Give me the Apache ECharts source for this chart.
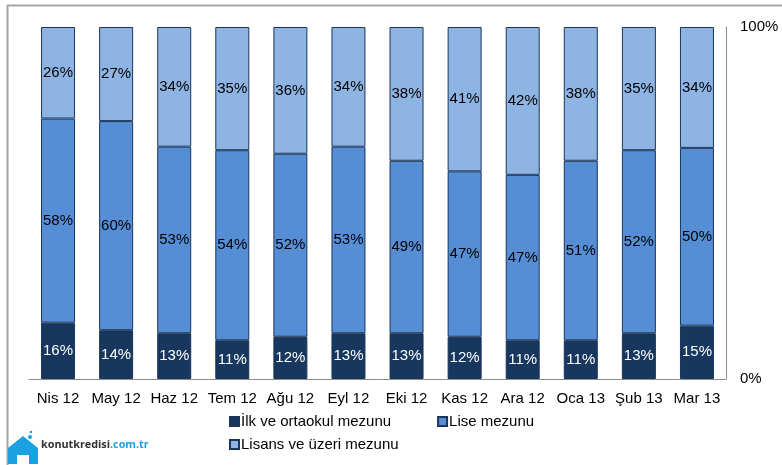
<!DOCTYPE html>
<html><head><meta charset="utf-8">
<script src="https://cdn.jsdelivr.net/npm/echarts@6/dist/echarts.min.js"></script>
<style>html,body{margin:0;padding:0;background:#fff}#c{width:782px;height:465px}</style>
</head><body><div id="c"></div>
<script>
const categories = ['Nis 12','May 12','Haz 12','Tem 12','Ağu 12','Eyl 12','Eki 12','Kas 12','Ara 12','Oca 13','Şub 13','Mar 13'];
const ilk = [16,14,13,11,12,13,13,12,11,11,13,15];
const lise = [58,60,53,54,52,53,49,47,47,51,52,50];
const lisans = [26,27,34,35,36,34,38,41,42,38,35,34];
const seriesNames = ['İlk ve ortaokul mezunu','Lise mezunu','Lisans ve üzeri mezunu'];
const yTicks = [0,100];

const totals = categories.map((_, i) => ilk[i] + lise[i] + lisans[i]);
const norm = arr => arr.map((v, i) => ({ value: v / totals[i] * 100, raw: v }));
const colors = ['#17375E','#558ED5','#8EB4E3'];
const labelColors = ['#ffffff','#000000','#000000'];
const FONT = 'Liberation Sans, Arial, sans-serif';

function mk(name, arr, k) {
  return {
    name, type: 'bar', stack: 'a', barWidth: 34,
    data: norm(arr),
    itemStyle: { color: colors[k], borderColor: '#1A3558', borderWidth: 1 },
    label: { show: true, position: 'inside', color: labelColors[k], fontSize: 15, fontFamily: FONT,
      formatter: p => p.data.raw + '%' },
    emphasis: { disabled: true }
  };
}

const chart = echarts.init(document.getElementById('c'));
chart.setOption({
  animation: false,
  backgroundColor: '#fff',
  grid: { left: 29, right: 56, top: 27, bottom: 86, containLabel: false },
  xAxis: {
    type: 'category', data: categories,
    axisLine: { lineStyle: { color: '#8C8C8C', width: 1 } },
    axisTick: { show: false },
    axisLabel: { color: '#000', fontSize: 15, fontFamily: FONT, margin: 12, interval: 0 }
  },
  yAxis: {
    type: 'value', position: 'right', min: 0, max: 100, interval: 100,
    axisLine: { show: true, lineStyle: { color: '#8C8C8C', width: 1 } },
    axisTick: { show: false },
    splitLine: { show: false },
    axisLabel: { color: '#000', fontSize: 15, fontFamily: FONT, margin: 14,
      formatter: v => yTicks.includes(v) ? v + '%' : '' }
  },
  legend: [
    { data: [seriesNames[0], seriesNames[1]], left: 224, top: 409, itemWidth: 9, itemHeight: 9, itemGap: 46,
      icon: 'rect', textStyle: { fontSize: 15, fontFamily: FONT, color: '#000', padding: [0,0,0,-3] }, selectedMode: false },
    { data: [seriesNames[2]], left: 224, top: 432, itemWidth: 9, itemHeight: 9,
      icon: 'rect', textStyle: { fontSize: 15, fontFamily: FONT, color: '#000', padding: [0,0,0,-3] }, selectedMode: false }
  ],
  graphic: [
    { type: 'line', shape: { x1: 7, y1: 5.5, x2: 782, y2: 5.5 }, style: { stroke: '#A6A6A6', lineWidth: 2 } },
    { type: 'line', shape: { x1: 7.5, y1: 5, x2: 7.5, y2: 465 }, style: { stroke: '#A6A6A6', lineWidth: 2 } },
    { type: 'polygon', shape: { points: [[8,448],[23,436],[38,448],[38,464],[29,464],[29,455],[17,455],[17,464],[8,464]] },
      style: { fill: '#1BA1E2' } },
    { type: 'circle', shape: { cx: 30, cy: 437, r: 2 }, style: { fill: '#1BA1E2' } },
    { type: 'circle', shape: { cx: 31, cy: 432, r: 1.3 }, style: { fill: '#1BA1E2' } },
    { type: 'text', left: 41, top: 439, style: {
      text: '{a|konutkredisi}{b|.com.tr}',
      rich: {
        a: { fill: '#333333', fontFamily: '"Open Sans", sans-serif', fontWeight: 700, fontSize: 10.8 },
        b: { fill: '#1BA1E2', fontFamily: '"Open Sans", sans-serif', fontWeight: 700, fontSize: 10.8 }
      } } }
  ],
  series: [mk(seriesNames[0], ilk, 0), mk(seriesNames[1], lise, 1), mk(seriesNames[2], lisans, 2)]
});
</script>
</body></html>
